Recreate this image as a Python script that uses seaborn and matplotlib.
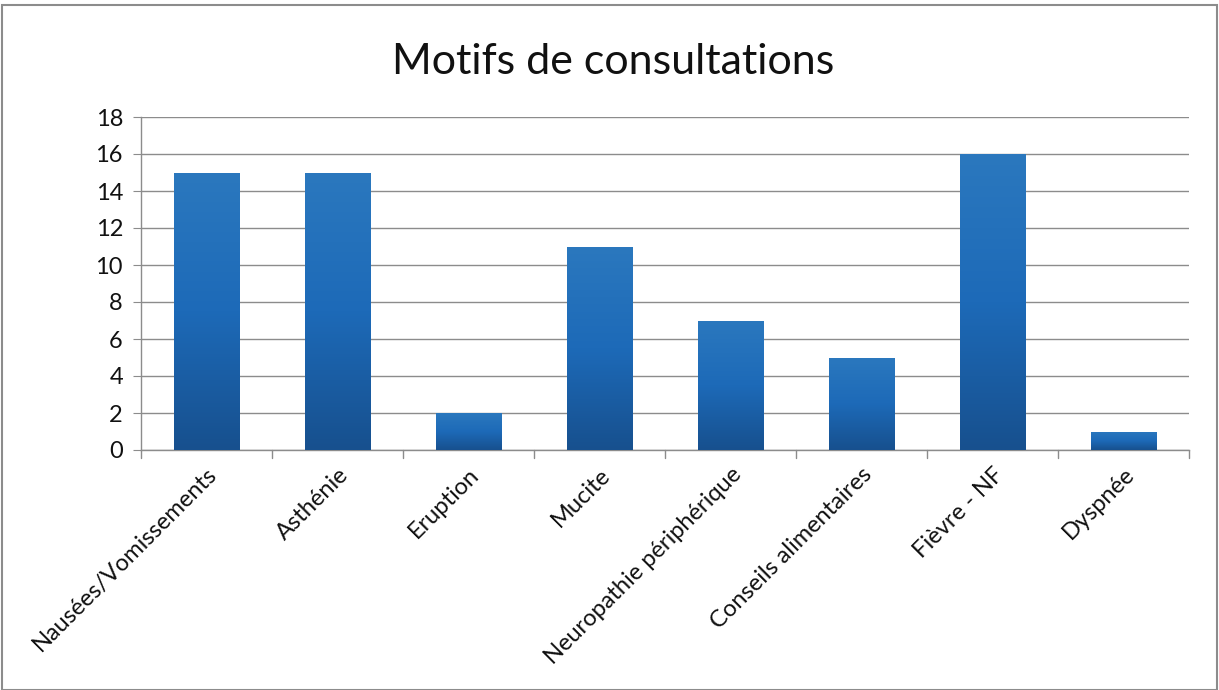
import numpy as np
import pandas as pd
import matplotlib
matplotlib.use("Agg")
import matplotlib.pyplot as plt
import seaborn as sns
from matplotlib.colors import LinearSegmentedColormap
from matplotlib.patches import Rectangle

# Data
categories = ["Nausées/Vomissements", "Asthénie", "Eruption", "Mucite",
              "Neuropathie périphérique", "Conseils alimentaires", "Fièvre - NF", "Dyspnée"]
counts = [15, 15, 2, 11, 7, 5, 16, 1]
y_ticks = [0, 2, 4, 6, 8, 10, 12, 14, 16, 18]

df = pd.DataFrame({"motif": categories, "n": counts})

sns.set_style("white")
plt.rcParams["font.family"] = ["Lato", "DejaVu Sans"]

fig = plt.figure(figsize=(12.19, 6.9), dpi=100)
ax = fig.add_axes([141 / 1219, 1 - 450 / 690, (1189 - 141) / 1219, (450 - 117) / 690])

sns.barplot(data=df, x="motif", y="n", color="#1f6ab5", width=0.5, ax=ax,
            saturation=1, zorder=3)

# vertical gradient fill on each bar
grad = LinearSegmentedColormap.from_list("bar", ["#17508e", "#1d6ab8", "#2b78be"])
g = np.linspace(0, 1, 256).reshape(-1, 1)
for bar in ax.patches:
    x0, y0 = bar.get_x(), bar.get_y()
    w, h = bar.get_width(), bar.get_height()
    im = ax.imshow(g, cmap=grad, origin="lower", aspect="auto",
                   extent=[x0, x0 + w, y0, y0 + h], zorder=4)
    im.set_clip_path(bar)
    bar.set_edgecolor("#4a8ccc")
    bar.set_linewidth(0.6)

ax.set_xlim(-0.5, len(categories) - 0.5)
ax.set_ylim(0, 18)
ax.set_yticks(y_ticks)
ax.yaxis.grid(True, color="#8c8c8c", linewidth=1, zorder=0)
ax.set_axisbelow(True)

ax.set_xlabel("")
ax.set_ylabel("")
ax.set_xticks(range(len(categories)))
ax.set_xticklabels(categories, rotation=45, ha="right", rotation_mode="anchor",
                   fontsize=17, color="#111111")
ax.tick_params(axis="x", length=0, pad=10)
ax.tick_params(axis="y", length=6, color="#8c8c8c", labelsize=17, labelcolor="#111111", pad=7,
               left=True)

# tick marks between categories on x axis
for b in np.arange(-0.5, len(categories), 1):
    ax.plot([b, b], [0, -0.45], color="#8c8c8c", linewidth=1, clip_on=False, zorder=2)

for side in ["top", "right"]:
    ax.spines[side].set_visible(False)
for side in ["left", "bottom"]:
    ax.spines[side].set_color("#8c8c8c")
    ax.spines[side].set_linewidth(1)

fig.text(613 / 1219, 1 - 62 / 690, "Motifs de consultations", ha="center", va="center",
         fontsize=31, color="#111111")

# outer chart frame
fig.patches.append(Rectangle((2 / 1219, 0), 1215 / 1219, 1 - 5 / 690, transform=fig.transFigure,
                             fill=False, edgecolor="#8c8c8c", linewidth=1.5))

fig.savefig("out.png", dpi=100)
